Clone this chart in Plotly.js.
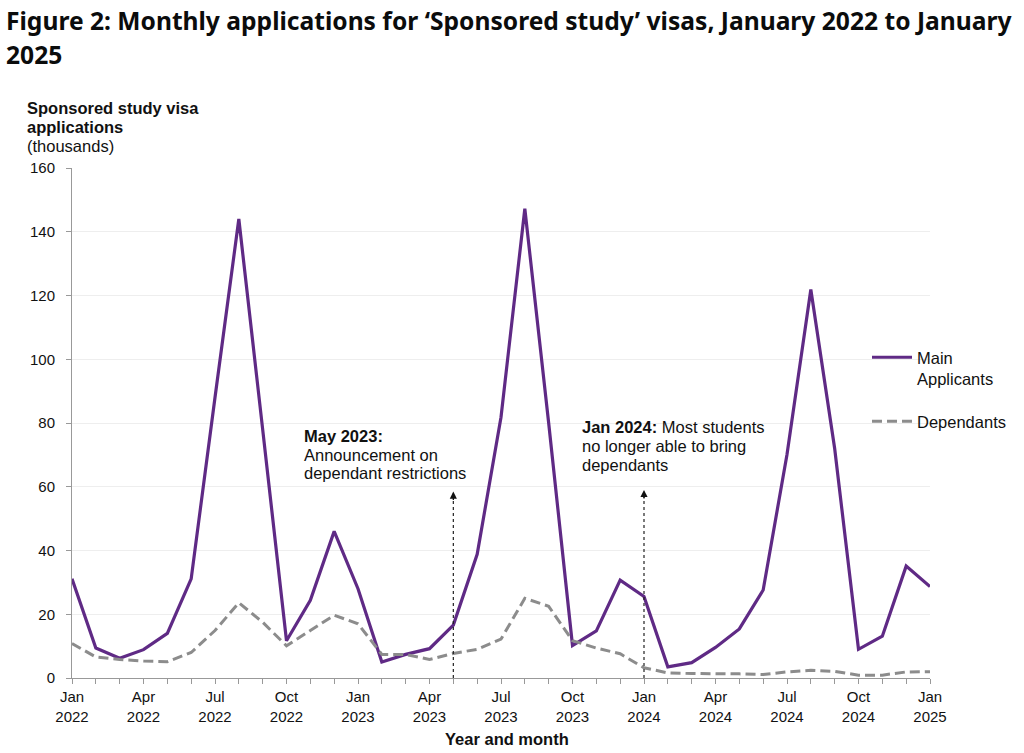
<!DOCTYPE html>
<html>
<head>
<meta charset="utf-8">
<script src="https://cdn.plot.ly/plotly-3.0.1.min.js"></script>
<style>
html,body{margin:0;padding:0;background:#fff;}
#chart{width:1024px;height:753px;}
</style>
</head>
<body>
<div id="chart"></div>
<script>
const months = ['Jan 2022','Feb 2022','Mar 2022','Apr 2022','May 2022','Jun 2022','Jul 2022','Aug 2022','Sep 2022','Oct 2022','Nov 2022','Dec 2022',
  'Jan 2023','Feb 2023','Mar 2023','Apr 2023','May 2023','Jun 2023','Jul 2023','Aug 2023','Sep 2023','Oct 2023','Nov 2023','Dec 2023',
  'Jan 2024','Feb 2024','Mar 2024','Apr 2024','May 2024','Jun 2024','Jul 2024','Aug 2024','Sep 2024','Oct 2024','Nov 2024','Dec 2024',
  'Jan 2025'];
const mainApplicants = [31.1, 9.4, 6.2, 8.9, 14.0, 31.1, 88, 144.0, 78, 11.7, 24.4, 46.0,
  28, 5.0, 7.4, 9.2, 16.6, 38.8, 81.8, 147.2, 80, 10.2, 14.8, 30.7,
  25.6, 3.5, 4.8, 9.6, 15.4, 27.6, 70.1, 121.9, 72, 9.0, 13.1, 35.1,
  28.7];
const dependants = [10.8, 6.6, 5.8, 5.3, 5.1, 8.0, 14.9, 23.6, 17.5, 10.1, 14.9, 19.7,
  17.0, 7.4, 7.4, 5.8, 7.7, 9.0, 12.2, 25.0, 22.5, 11.7, 9.4, 7.6,
  3.2, 1.6, 1.4, 1.4, 1.3, 1.1, 1.9, 2.4, 2.1, 0.9, 0.9, 1.9,
  2.0];
const labelledMonths = ['Jan','Apr','Jul','Oct'];
const yTicks = [0, 20, 40, 60, 80, 100, 120, 140, 160];
const titleLines = ['Figure 2: Monthly applications for ‘Sponsored study’ visas, January 2022 to January', '2025'];
const events = [
  {month: 'May 2023', top: 58.5, lines: ['<b>May 2023:</b>', 'Announcement on', 'dependant restrictions'], left: 302, tops: [436, 455, 473]},
  {month: 'Jan 2024', top: 59, lines: ['<b>Jan 2024:</b> Most students', 'no longer able to bring', 'dependants'], left: 580, tops: [427, 446, 465]}
];

const FONT = 'Liberation Sans, Arial, Helvetica, sans-serif';
const PL = 72, PR = 930, PT = 168, PB = 678;
const PW = PR - PL, PH = PB - PT;
const px2x = p => (p - PL) / PW;
const px2y = p => (PB - p) / PH;

const traces = [
  {x: months, y: mainApplicants, type: 'scatter', mode: 'lines', name: 'Main<br>Applicants',
   legendgroup: 'a', line: {color: '#5f2a85', width: 3.2}, hoverinfo: 'x+y'},
  {x: months, y: dependants, type: 'scatter', mode: 'lines', name: 'Dependants',
   legendgroup: 'b', line: {color: '#8c8c8c', width: 3, dash: '10px,5px'}, hoverinfo: 'x+y'}
];

const annotations = [];
const shapes = [];
// title lines
const titleTops = [21, 55];
titleLines.forEach((t, i) => annotations.push({
  text: '<b>' + t + '</b>', xref: 'paper', yref: 'paper', x: px2x(4), y: px2y(titleTops[i]),
  xanchor: 'left', yanchor: 'middle', showarrow: false, align: 'left',
  font: {family: 'Noto Sans, DejaVu Sans, sans-serif', size: 24.6, color: '#0b0c0c'}
}));
// y-axis title lines
const yTitle = ['<b>Sponsored study visa</b>', '<b>applications</b>', '(thousands)'];
const yTitleTops = [108, 127, 146];
yTitle.forEach((t, i) => annotations.push({
  text: t, xref: 'paper', yref: 'paper', x: px2x(25), y: px2y(yTitleTops[i]),
  xanchor: 'left', yanchor: 'middle', showarrow: false, align: 'left',
  font: {family: FONT, size: 16.5, color: '#111'}
}));
events.forEach(ev => {
  ev.lines.forEach((t, i) => annotations.push({
    text: t, xref: 'paper', yref: 'paper', x: px2x(ev.left), y: px2y(ev.tops[i]),
    xanchor: 'left', yanchor: 'middle', showarrow: false, align: 'left',
    font: {family: FONT, size: 16.5, color: '#111'}
  }));
  shapes.push({type: 'line', xref: 'x', yref: 'y', x0: ev.month, x1: ev.month, y0: 0, y1: ev.top - 2,
    line: {color: '#222', width: 1.2, dash: '3px,3px'}});
  annotations.push({text: '', xref: 'x', yref: 'y', x: ev.month, y: ev.top, ax: 0, ay: 10,
    axref: 'pixel', ayref: 'pixel', showarrow: true, arrowhead: 2, arrowsize: 1.1, arrowwidth: 1.3,
    arrowcolor: '#111', standoff: 0});
});
annotations.push({text: '<b>Year and month</b>', xref: 'paper', yref: 'paper', x: px2x(507), y: px2y(739),
  xanchor: 'center', yanchor: 'middle', showarrow: false, font: {family: FONT, size: 16.5, color: '#111'}});

const layout = {
  width: 1024, height: 753,
  margin: {l: PL, r: 1024 - PR, t: PT, b: 753 - PB, pad: 0},
  paper_bgcolor: '#fff', plot_bgcolor: '#fff',
  font: {family: FONT, color: '#111', size: 15},
  xaxis: {type: 'category', range: [0, months.length - 1], tickmode: 'array', tickvals: months,
    ticktext: months.map(m => labelledMonths.includes(m.split(' ')[0]) ? m.replace(' ', '<br>') : ''),
    ticks: 'outside', ticklen: 5, tickcolor: '#999', tickwidth: 1,
    showline: true, linecolor: '#999', linewidth: 1, showgrid: false, zeroline: false,
    tickfont: {family: FONT, size: 15, color: '#111'}, tickangle: 0, fixedrange: true},
  yaxis: {range: [0, 160], tickmode: 'array', tickvals: yTicks, ticktext: yTicks.map(String),
    ticks: 'outside', ticklen: 5, tickcolor: '#999', tickwidth: 1,
    showline: true, linecolor: '#999', linewidth: 1, showgrid: true, gridcolor: '#eeeeee', gridwidth: 1,
    zeroline: false, ticklabelstandoff: 8,
    tickfont: {family: FONT, size: 15, color: '#111'}, fixedrange: true},
  showlegend: true,
  legend: {x: px2x(867), y: px2y(340), xanchor: 'left', yanchor: 'top', xref: 'paper', yref: 'paper',
    bgcolor: 'rgba(0,0,0,0)', borderwidth: 0, valign: 'top', tracegroupgap: 18, itemwidth: 40,
    font: {family: FONT, size: 16.5, color: '#111'}},
  annotations: annotations,
  shapes: shapes,
  hovermode: false
};

Plotly.newPlot('chart', traces, layout, {displayModeBar: false, staticPlot: true});
</script>
</body>
</html>
